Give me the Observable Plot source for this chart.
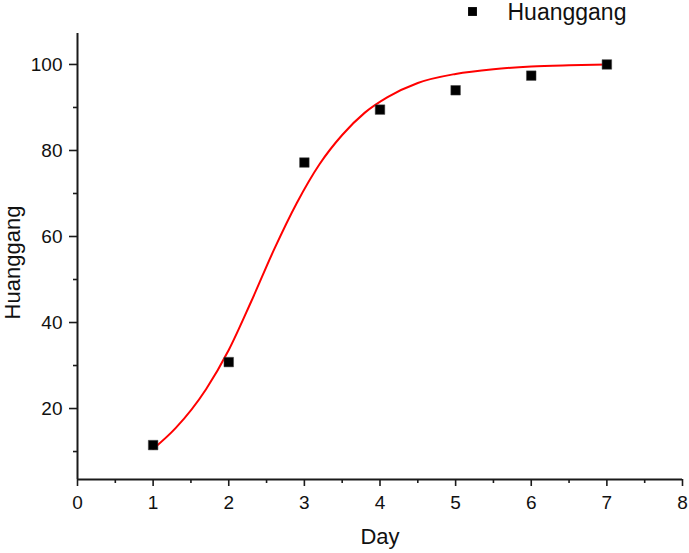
<!DOCTYPE html>
<html><head><meta charset="utf-8">
<script src="https://cdn.jsdelivr.net/npm/d3@7"></script>
<script src="https://cdn.jsdelivr.net/npm/@observablehq/plot@0.6"></script>
<style>body{margin:0;background:#fff;overflow:hidden}</style>
</head><body><div id="chart"></div>
<script>
// Observed data
const days = [1, 2, 3, 4, 5, 6, 7];
const huanggang = [11.5, 30.8, 77.2, 89.5, 94.0, 97.4, 100.0];

// Fitted curve
const fitDay   = [1.0, 1.3, 1.7, 2.0, 2.3, 2.6, 2.9, 3.2, 3.5, 3.8, 4.1, 4.5, 5.0, 5.5, 6.0, 6.5, 7.0];
const fitValue = [10.6, 15.5, 24.5, 33.6, 45.0, 57.0, 67.8, 76.8, 83.6, 88.8, 92.4, 95.7, 97.8, 98.9, 99.5, 99.8, 100.0];

// Axes
const xTicks = [0, 1, 2, 3, 4, 5, 6, 7, 8];
const xMinorTicks = [0.5, 1.5, 2.5, 3.5, 4.5, 5.5, 6.5, 7.5];
const yTicks = [20, 40, 60, 80, 100];
const yMinorTicks = [10, 30, 50, 70, 90];
const xDomain = [0, 8];
const yDomain = [3.5, 107.2];

const seriesName = "Huanggang";
const xLabel = "Day";
const yLabel = "Huanggang";

const points = days.map((d, i) => ({day: d, value: huanggang[i]}));
const fit = fitDay.map((d, i) => ({day: d, value: fitValue[i]}));

const axisColor = "#1a1a1a";
const font = "'Liberation Sans', Arial, sans-serif";

const chart = Plot.plot({
  width: 689,
  height: 553,
  marginLeft: 77,
  marginRight: 7,
  marginTop: 33,
  marginBottom: 74,
  style: {fontFamily: font, fontSize: "19px", color: axisColor, background: "#fff"},
  x: {domain: xDomain},
  y: {domain: yDomain},
  marks: [
    Plot.axisX({ticks: xTicks, tickSize: 7, text: null, strokeWidth: 1.6, label: null}),
    Plot.axisX({ticks: xMinorTicks, tickSize: 4, text: null, strokeWidth: 1.6, label: null}),
    Plot.axisY({ticks: yTicks, tickSize: 8, text: null, strokeWidth: 1.6, label: null}),
    Plot.axisY({ticks: yMinorTicks, tickSize: 4, text: null, strokeWidth: 1.6, label: null}),
    // tick labels
    Plot.text(xTicks, {x: d => d, frameAnchor: "bottom", lineAnchor: "top", dy: 16, text: d => String(d), fontSize: 19, fill: "#111"}),
    Plot.text(yTicks, {y: d => d, frameAnchor: "left", textAnchor: "end", lineAnchor: "middle", dx: -15, text: d => String(d), fontSize: 19, fill: "#111"}),
    Plot.ruleX([xDomain[0]], {stroke: axisColor, strokeWidth: 2}),
    Plot.ruleY([yDomain[0]], {stroke: axisColor, strokeWidth: 2}),
    Plot.line(fit, {x: "day", y: "value", stroke: "#ff0000", strokeWidth: 2, curve: "monotone-x"}),
    Plot.dot(points, {x: "day", y: "value", symbol: "square", r: 5.4, fill: "#000", stroke: "#444", strokeWidth: 0.5}),
    // axis titles
    Plot.text([xLabel], {frameAnchor: "bottom", dy: 64, text: d => d, fontSize: 22, fill: "#111"}),
    Plot.text([yLabel], {frameAnchor: "left", dx: -65, dy: 6, rotate: -90, textAnchor: "middle", text: d => d, fontSize: 22, fill: "#111"}),
    // legend
    Plot.dot([seriesName], {frameAnchor: "top-left", dx: 395, dy: -22, symbol: "square", r: 5, fill: "#000"}),
    Plot.text([seriesName], {frameAnchor: "top-left", dx: 430, dy: -30, text: d => d, textAnchor: "start", lineAnchor: "top", fontSize: 23, fill: "#111"})
  ]
});
document.getElementById("chart").appendChild(chart);
</script>
</body></html>
